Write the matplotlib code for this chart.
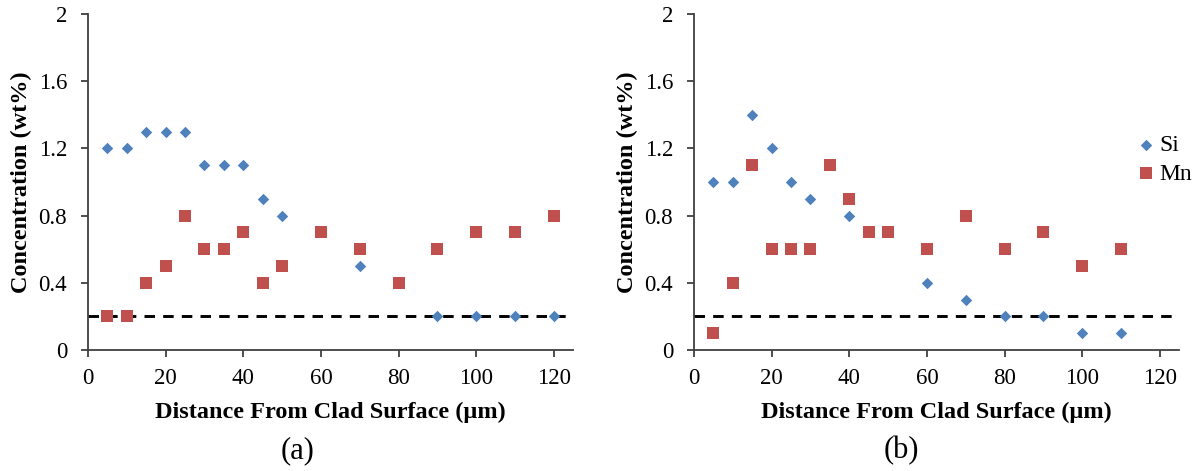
import matplotlib.pyplot as plt

# panel (a)
si_a_x = [5, 10, 15, 20, 25, 30, 35, 40, 45, 50, 70, 90, 100, 110, 120]
si_a_y = [1.2, 1.2, 1.3, 1.3, 1.3, 1.1, 1.1, 1.1, 0.9, 0.8, 0.5, 0.2, 0.2, 0.2, 0.2]
mn_a_x = [5, 10, 15, 20, 25, 30, 35, 40, 45, 50, 60, 70, 80, 90, 100, 110, 120]
mn_a_y = [0.2, 0.2, 0.4, 0.5, 0.8, 0.6, 0.6, 0.7, 0.4, 0.5, 0.7, 0.6, 0.4, 0.6, 0.7, 0.7, 0.8]

# panel (b)
si_b_x = [5, 10, 15, 20, 25, 30, 40, 60, 70, 80, 90, 100, 110]
si_b_y = [1.0, 1.0, 1.4, 1.2, 1.0, 0.9, 0.8, 0.4, 0.3, 0.2, 0.2, 0.1, 0.1]
mn_b_x = [5, 10, 15, 20, 25, 30, 35, 40, 45, 50, 60, 70, 80, 90, 100, 110]
mn_b_y = [0.1, 0.4, 1.1, 0.6, 0.6, 0.6, 1.1, 0.9, 0.7, 0.7, 0.6, 0.8, 0.6, 0.7, 0.5, 0.6]

limit = 0.2
xticks = [0, 20, 40, 60, 80, 100, 120]
yticks = [0, 0.4, 0.8, 1.2, 1.6, 2]
ytick_labels = ["0", "0.4", "0.8", "1.2", "1.6", "2"]

blue = "#4F81BD"
red = "#C0504D"
axis_grey = "#404040"

plt.rcParams['font.family'] = ['Liberation Serif', 'DejaVu Serif']

fig = plt.figure(figsize=(12.01, 4.71), dpi=100)
ax_a = fig.add_axes([0.07327, 0.2569, 0.4041, 0.71338])
ax_b = fig.add_axes([0.57785, 0.2569, 0.4041, 0.71338])

panels = [
    (ax_a, si_a_x, si_a_y, mn_a_x, mn_a_y, "(a)", 298),
    (ax_b, si_b_x, si_b_y, mn_b_x, mn_b_y, "(b)", 901),
]

for ax, sx, sy, mx, my, tag, tag_x in panels:
    ax.scatter(sx, sy, marker="D", s=34, color=blue, label="Si", zorder=3, linewidths=0)
    ax.scatter(mx, my, marker="s", s=68, color=red, label="Mn", zorder=3, linewidths=0)
    ax.axhline(limit, color="black", linestyle=(0, (3.6, 2.8)), linewidth=2.1, zorder=2)
    ax.set_xlim(0, 125)
    ax.set_ylim(0, 2)
    ax.set_xticks(xticks)
    ax.set_yticks(yticks)
    ax.set_yticklabels(ytick_labels)
    ax.spines['top'].set_visible(False)
    ax.spines['right'].set_visible(False)
    for side in ['left', 'bottom']:
        ax.spines[side].set_color(axis_grey)
        ax.spines[side].set_linewidth(1.3)
    ax.tick_params(direction="out", length=5, width=1.3, color=axis_grey, labelsize=16.5)
    ax.tick_params(axis="x", pad=8)
    ax.tick_params(axis="y", pad=10)
    ax.set_xlabel("Distance From Clad Surface (\u00b5m)", fontsize=17.5, fontweight="bold", va="baseline")
    ax.xaxis.set_label_coords(0.5, -0.2024)
    ax.set_ylabel("Concentration (wt%)", fontsize=17.5, fontweight="bold", va="center")
    ax.yaxis.set_label_coords(-0.138, 0.5)
    fig.text(tag_x / 1201, 1 - 451 / 471, tag, ha="center", va="center", fontsize=22)

fig.legend(*ax_b.get_legend_handles_labels(), loc="center left",
           bbox_to_anchor=(1136.5 / 1201, 1 - 159.5 / 471), frameon=False, fontsize=17,
           handletextpad=0.15, labelspacing=0.3, borderpad=0, borderaxespad=0, handlelength=0.8)

fig.savefig("out.png", dpi=100)
